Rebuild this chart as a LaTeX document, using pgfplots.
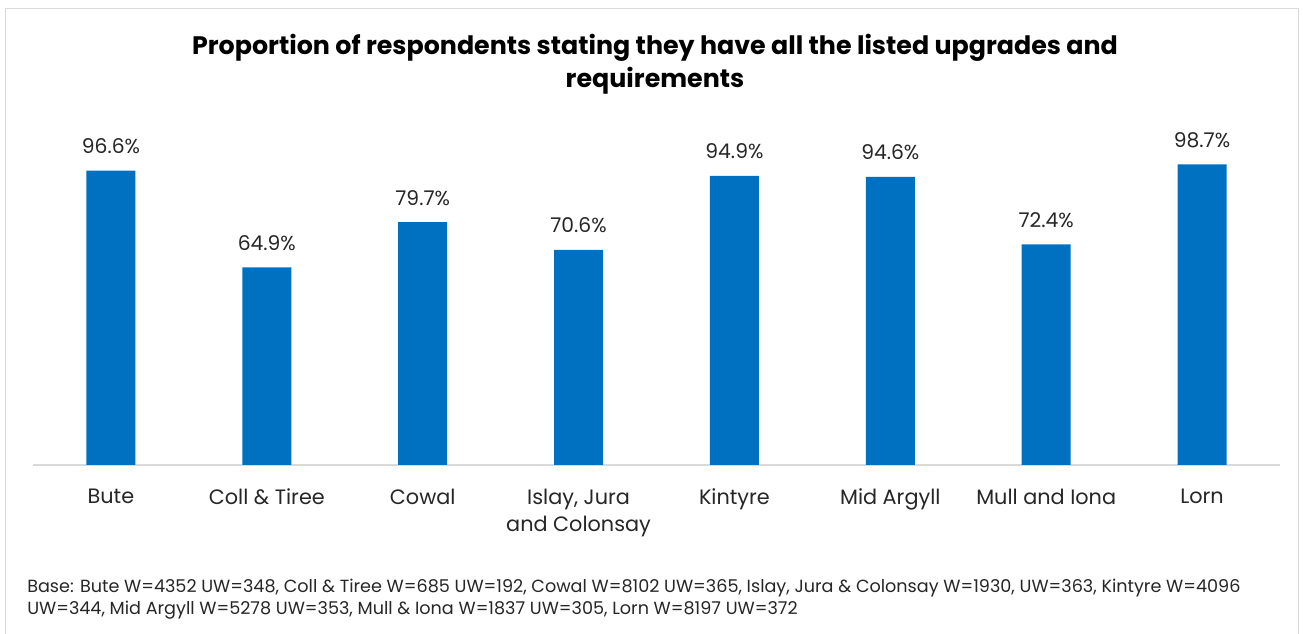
\documentclass[border=0pt]{standalone}
\usepackage{pgfplots}
\pgfplotsset{compat=1.18}
\usepackage{fontspec}
\setmainfont{Poppins}
\definecolor{barblue}{HTML}{0070C0}
\definecolor{txt}{HTML}{262626}
\definecolor{axgray}{HTML}{D9D9D9}
\definecolor{framegray}{HTML}{D9D9D9}
\begin{document}
\begin{tikzpicture}
\useasboundingbox (0,0) rectangle (977.25pt,475.5pt);
\draw[framegray, line width=0.75pt] (3.75pt,-5pt) -- (3.75pt,468.75pt) -- (973.5pt,468.75pt) -- (973.5pt,-5pt);
\node[align=center, font=\bfseries\fontsize{19}{24.75}\selectfont, text=black] at (491.25pt,427.5pt)
  {Proportion of respondents stating they have all the listed upgrades and\\requirements};
\begin{axis}[
  at={(24.75pt,126.75pt)}, anchor=south west,
  scale only axis,
  width=935.25pt, height=246.75pt,
  ymin=0, ymax=108,
  xmin=-0.5, xmax=7.5,
  ybar, bar width=36.75pt,
  axis x line*=bottom,
  axis y line=none,
  x axis line style={axgray, line width=1.2pt},
  xtick=data,
  xticklabels={Bute, Coll \& Tiree, Cowal, {Islay, Jura\\and Colonsay}, Kintyre, Mid Argyll, Mull and Iona, Lorn},
  xticklabel style={align=center, text=txt, font=\fontsize{15.6}{20.25}\selectfont, yshift=-14.5pt},
  major tick length=0pt,
  /pgf/number format/assume math mode=true,
  nodes near coords={\pgfmathprintnumber[fixed,fixed zerofill,precision=1]{\pgfplotspointmeta}\%},
  every node near coord/.append style={text=txt, font=\fontsize{15.2}{18}\selectfont, yshift=9pt},
  clip=false,
]
\addplot[fill=barblue, draw=none] coordinates {
  (0,96.6) (1,64.9) (2,79.7) (3,70.6) (4,94.9) (5,94.6) (6,72.4) (7,98.7)
};
\end{axis}
\node[anchor=west, align=left, text=txt, font=\fontsize{13.2}{16.5}\selectfont, inner sep=0pt] at (20.25pt,26pt)
  {Base: Bute W=4352 UW=348, Coll \& Tiree W=685 UW=192, Cowal W=8102 UW=365, Islay, Jura \& Colonsay W=1930, UW=363, Kintyre W=4096\\
   UW=344, Mid Argyll W=5278 UW=353, Mull \& Iona W=1837 UW=305, Lorn W=8197 UW=372};
\end{tikzpicture}
\end{document}
